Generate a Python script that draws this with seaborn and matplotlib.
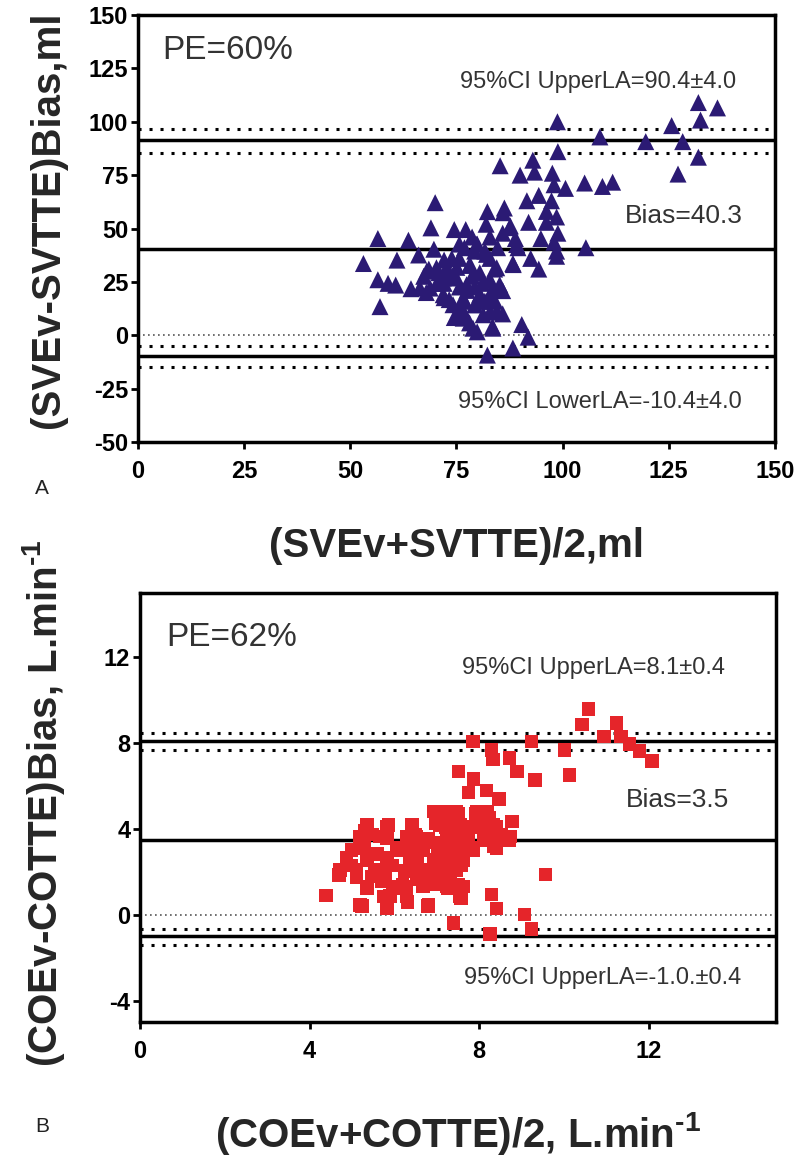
import matplotlib
matplotlib.use("Agg")
import matplotlib.pyplot as plt
import seaborn as sns
import pandas as pd

# Panel A: stroke volume (ml)
sv_mean = [132, 136.5, 132.5, 125.7, 128.3, 119.6, 132, 127.2, 108.8, 98.8,
           98.9, 85.3, 93, 90, 93.4, 97.6, 98, 100.7, 105.2, 109.4,
           111.8, 94.4, 97.4, 91.6, 96.2, 98.6, 96.2, 92, 87.7, 86.3,
           82.3, 82, 70, 69, 74.5, 77.2, 78.7, 98.9, 98, 105.5,
           98.6, 98.6, 89.5, 92.5, 94.4, 88.3, 84.7, 56.5, 63.7, 53.1,
           61, 56.5, 58.9, 60.7, 57, 64.3, 67.9, 67.3, 68.5, 69.7,
           72.1, 72.1, 73.3, 74.5, 76.3, 78.1, 79.9, 83.5, 82.9, 84.1,
           85.9, 85.9, 82.9, 80.5, 78.1, 75.7, 74.5, 75.7, 76.9, 72.1,
           80.5, 82.3, 88.3, 90.4, 91.9, 82.9, 84, 81.7, 79.3, 76.9,
           70.9, 70.4, 73.3, 66.1, 75.7, 79.9, 82.9, 85.9, 88.9, 94.9,
           79.3, 77.5, 81.7, 73.9, 75.1, 78.7, 81.1, 76.3, 83.5, 79.3,
           86.0, 87.6, 89.2, 88.4, 84.5, 82.1, 79.8, 78.2, 75.0, 72.7,
           70.3, 68.0, 66.4, 68.8, 71.9, 74.2, 76.6, 80.5, 82.9, 85.2,
           84.5, 81.3, 76.6, 78.9, 83.6, 71.9, 77.4]
sv_diff = [109, 106.5, 100.8, 98.2, 90.7, 90.7, 83.4, 75.5, 92.9, 100,
           86, 79.4, 82, 75, 76.4, 75.9, 70.5, 68.8, 71.3, 69.7,
           71.7, 65.5, 63, 63, 58, 55.4, 52.9, 52.9, 51.2, 59.6,
           57.9, 52, 62.1, 50.3, 49.5, 49.5, 46, 47.8, 43.6, 41,
           39.4, 37, 41, 36, 31, 33.6, 41, 45.3, 44.5, 33.6,
           35.2, 26, 24.3, 23.5, 13.4, 21.8, 20, 27.6, 31, 40.3,
           35.2, 24.3, 16.7, 8.3, 10.8, 5.8, 1.6, 4.1, 10.8, 15.9,
           10, 20.9, 26, 29.3, 32.7, 36, 27.6, 22.6, 15.9, 17.6,
           19.2, -9.3, -6, 5, -0.9, 36, 31, 39.4, 39.4, 41,
           29.3, 24.3, 29.3, 37.6, 42.7, 42.7, 46, 47.8, 45.3, 45.3,
           22.6, 21, 15.9, 36, 31.8, 27.6, 24.3, 12.5, 21, 14.2,
           57.4, 50.4, 42.5, 33.1, 31.6, 37.9, 42.6, 33.1, 26.8, 31.6,
           31.6, 30.0, 22.1, 22.1, 19.0, 14.3, 17.4, 15.9, 19.0, 23.7,
           11.2, 9.6, 8.0, 3.3, 3.3, 26.8, 23.7]
sv_bias = 40.3
sv_upper, sv_upper_ci = 91.6, [96.6, 85.6]
sv_lower, sv_lower_ci = -9.9, [-5.2, -14.8]

# Panel B: cardiac output (L/min)
co_mean = [10.58, 10.42, 11.24, 10.94, 11.34, 11.54, 11.78, 12.08, 10.01, 10.13,
           9.23, 7.85, 8.29, 8.33, 8.71, 8.89, 9.31, 7.51, 7.87, 7.75,
           8.17, 8.47, 8.77, 9.56, 8.29, 8.41, 9.07, 9.23, 8.26, 7.39,
           4.39, 4.69, 4.99, 5.29, 5.83, 6.43, 5.23, 5.83, 6.31, 6.79,
           5.35, 5.89, 5.29, 5.59, 5.53, 5.95, 6.07, 6.31, 6.55, 6.61,
           6.91, 6.97, 6.79, 6.97, 7.15, 7.51, 7.93, 8.23, 8.41, 8.53,
           8.71, 8.35, 8.11, 7.87, 7.63, 7.33, 7.15, 7.39, 7.63, 7.57,
           7.27, 7.51, 7.57, 7.27, 4.87, 5.11, 4.99, 5.71, 6.19, 6.25,
           5.83, 5.47, 6.67, 6.49, 7.03, 7.75, 8.05, 7.39, 7.21, 6.91,
           7.51, 6.07, 5.83, 6.37, 6.55, 6.85, 7.21, 7.45, 7.87, 8.41,
           6.92, 7.47, 7.94, 8.18, 5.35, 5.86, 6.41, 7.08, 7.55, 8.02,
           8.33, 5.19, 5.66, 6.29, 6.52, 7.23, 7.70, 8.18, 8.73, 5.27,
           6.05, 6.37, 7.23, 7.55, 7.86, 8.41, 4.87, 5.35, 5.82, 6.52,
           6.92, 7.31, 7.63, 4.72, 5.11, 5.66, 6.37, 6.68, 7.15, 7.47,
           5.46, 5.78, 6.52, 7.08, 7.31, 5.35, 5.97, 6.29, 6.68, 7.23,
           7.63, 5.74, 6.29, 7.55, 5.19, 5.82, 6.80]
co_diff = [9.59, 8.87, 8.92, 8.3, 8.3, 7.94, 7.62, 7.17, 7.67, 6.5,
           8.06, 8.06, 7.67, 7.22, 7.31, 6.68, 6.27, 6.68, 6.33, 5.7,
           5.79, 5.39, 4.35, 1.88, 0.95, 0.29, 0.0, -0.66, -0.9, -0.39,
           0.9, 1.85, 2.29, 3.9, 4.09, 4.0, 0.41, 0.32, 0.59, 0.41,
           1.22, 0.86, 3.28, 2.83, 1.94, 2.29, 3.01, 3.37, 2.74, 1.67,
           1.4, 2.29, 3.55, 4.27, 4.8, 4.71, 4.71, 4.53, 4.09, 3.73,
           3.46, 3.19, 3.46, 4.09, 4.09, 3.73, 3.19, 2.83, 3.01, 2.29,
           1.94, 1.4, 0.77, 1.22, 2.65, 1.76, 3.01, 1.58, 1.4, 2.03,
           3.55, 3.73, 3.01, 3.73, 2.83, 3.55, 4.44, 4.27, 4.09, 3.37,
           3.46, 1.22, 2.65, 2.65, 2.11, 2.03, 2.47, 2.56, 3.01, 3.73,
           4.80, 4.80, 4.80, 4.80, 4.18, 4.18, 4.18, 4.18, 4.18, 4.18,
           4.18, 3.64, 3.64, 3.64, 3.64, 3.64, 3.64, 3.64, 3.64, 3.11,
           3.11, 3.11, 3.11, 3.11, 3.11, 3.11, 2.55, 2.55, 2.55, 2.55,
           2.55, 2.55, 2.55, 2.09, 2.09, 2.09, 2.09, 2.09, 2.09, 2.09,
           1.77, 1.77, 1.77, 1.77, 1.77, 1.31, 1.31, 1.31, 1.31, 1.31,
           1.31, 0.84, 0.84, 0.84, 0.45, 0.45, 0.45]
co_bias = 3.5
co_upper, co_upper_ci = 8.1, [8.45, 7.65]
co_lower, co_lower_ci = -1.0, [-0.65, -1.42]

sns.set_style("ticks")
plt.rcParams['font.family'] = ['Liberation Sans', 'DejaVu Sans']
plt.rcParams['axes.unicode_minus'] = False
plt.rcParams['mathtext.fontset'] = 'custom'
plt.rcParams['mathtext.rm'] = 'Liberation Sans:bold'
plt.rcParams['mathtext.bf'] = 'Liberation Sans:bold'

fig = plt.figure(figsize=(8, 11.57), dpi=100)
ax1 = fig.add_axes([0.1725, 0.618, 0.796, 0.369])
ax2 = fig.add_axes([0.175, 0.1167, 0.795, 0.371])

df_sv = pd.DataFrame({'mean': sv_mean, 'diff': sv_diff})
df_co = pd.DataFrame({'mean': co_mean, 'diff': co_diff})

sns.scatterplot(data=df_sv, x='mean', y='diff', marker='^', s=150,
                color='#2b1a74', edgecolor='none', ax=ax1, zorder=3)
sns.scatterplot(data=df_co, x='mean', y='diff', marker='s', s=95,
                color='#e5252a', edgecolor='none', ax=ax2, zorder=3)


def lines(ax, bias, upper, upper_ci, lower, lower_ci):
    ax.axhline(0, color='#555555', lw=1.2, ls=(0, (1, 2)), zorder=1)
    for v in [bias, upper, lower]:
        ax.axhline(v, color='black', lw=2.5, zorder=2)
    for v in upper_ci + lower_ci:
        ax.axhline(v, color='black', lw=2.2, ls=(0, (1, 2.6)), zorder=2)


lines(ax1, sv_bias, sv_upper, sv_upper_ci, sv_lower, sv_lower_ci)
lines(ax2, co_bias, co_upper, co_upper_ci, co_lower, co_lower_ci)

ax1.set_xlim(0, 150)
ax1.set_ylim(-50, 150)
ax1.set_xticks(range(0, 151, 25))
ax1.set_yticks(range(-50, 151, 25))
ax2.set_xlim(0, 15)
ax2.set_ylim(-5, 15)
ax2.set_xticks([0, 4, 8, 12])
ax2.set_yticks([-4, 0, 4, 8, 12])

for ax in [ax1, ax2]:
    for sp in ax.spines.values():
        sp.set_linewidth(2.5)
        sp.set_color('black')
    ax.tick_params(axis='both', width=2, length=5, labelsize=17, colors='black')
    ax.tick_params(axis='x', pad=8)
    ax.tick_params(axis='y', pad=2)
    for lab in ax.get_xticklabels() + ax.get_yticklabels():
        lab.set_fontweight('bold')

ax1.set_xlabel('(SVEv+SVTTE)/2,ml', fontsize=29, fontweight='bold')
ax1.set_ylabel('(SVEv-SVTTE)Bias,ml', fontsize=29, fontweight='bold')
ax2.set_xlabel('(COEv+COTTE)/2, L.min$^{\\text{-1}}$', fontsize=29, fontweight='bold')
ax2.set_ylabel('(COEv-COTTE)Bias, L.min$^{\\text{-1}}$', fontsize=29, fontweight='bold')
ax1.xaxis.set_label_coords(0.5, -0.2)
ax2.xaxis.set_label_coords(0.5, -0.205)
ax1.yaxis.set_label_coords(-0.112, 0.52)
ax2.yaxis.set_label_coords(-0.115, 0.51)

txt = '#333333'
ax1.text(0.038, 0.918, 'PE=60%', transform=ax1.transAxes, fontsize=24, color=txt, va='center')
ax1.text(0.505, 0.843, '95%CI UpperLA=90.4±4.0', transform=ax1.transAxes, fontsize=17, color=txt, va='center')
ax1.text(0.765, 0.529, 'Bias=40.3', transform=ax1.transAxes, fontsize=19, color=txt, va='center')
ax1.text(0.502, 0.094, '95%CI LowerLA=-10.4±4.0', transform=ax1.transAxes, fontsize=17, color=txt, va='center')

ax2.text(0.042, 0.895, 'PE=62%', transform=ax2.transAxes, fontsize=24, color=txt, va='center')
ax2.text(0.506, 0.825, '95%CI UpperLA=8.1±0.4', transform=ax2.transAxes, fontsize=17, color=txt, va='center')
ax2.text(0.764, 0.517, 'Bias=3.5', transform=ax2.transAxes, fontsize=19, color=txt, va='center')
ax2.text(0.509, 0.103, '95%CI UpperLA=-1.0.±0.4', transform=ax2.transAxes, fontsize=17, color=txt, va='center')

fig.text(42 / 800, 1 - 488 / 1157, 'A', fontsize=15, ha='center', va='center', color='#222222')
fig.text(42 / 800, 1 - 1127 / 1157, 'B', fontsize=15, ha='center', va='center', color='#222222')

fig.savefig('out.png', dpi=100)
